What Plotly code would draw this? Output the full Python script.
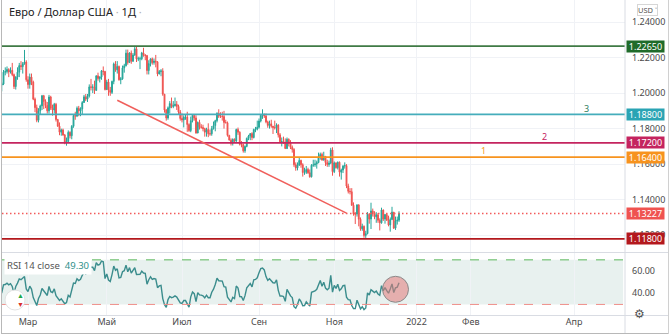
import numpy as np
import pandas as pd
import plotly.graph_objects as go

# ---------------- data (EUR/USD daily) ----------------
first_open = 1.2214
close = [
    1.2250, 1.2297, 1.2325, 1.2270, 1.2220,
    1.2150, 1.2207, 1.2156, 1.2154, 1.2080,
    1.2076, 1.2131, 1.2105, 1.2166, 1.2170,
    1.2141, 1.2160, 1.2110, 1.2125, 1.2136,
    1.2060, 1.2037, 1.2040, 1.1963, 1.2045,
    1.2051, 1.2118, 1.2121, 1.2133, 1.2119,
    1.2128, 1.2104, 1.2037, 1.2090, 1.2118,
    1.2155, 1.2149, 1.2165, 1.2175, 1.2075,
    1.2048, 1.2090, 1.2062, 1.1966, 1.1918,
    1.1847, 1.1900, 1.1928, 1.1985, 1.1953,
    1.1930, 1.1900, 1.1978, 1.1915, 1.1905,
    1.1937, 1.1851, 1.1814, 1.1780, 1.1793,
    1.1764, 1.1720, 1.1728, 1.1779, 1.1760,
    1.1813, 1.1874, 1.1871, 1.1915, 1.1900,
    1.1911, 1.1947, 1.1979, 1.1966, 1.1983,
    1.2035, 1.2033, 1.2034, 1.2015, 1.2097,
    1.2082, 1.2090, 1.2125, 1.2122, 1.2020,
    1.2062, 1.2016, 1.2004, 1.2066, 1.2164,
    1.2131, 1.2150, 1.2075, 1.2080, 1.2142,
    1.2154, 1.2225, 1.2172, 1.2226, 1.2180,
    1.2214, 1.2249, 1.2192, 1.2193, 1.2193,
    1.2226, 1.2213, 1.2211, 1.2127, 1.2166,
    1.2193, 1.2172, 1.2180, 1.2176, 1.2108,
    1.2121, 1.2125, 1.1994, 1.1905, 1.1860,
    1.1917, 1.1941, 1.1925, 1.1929, 1.1937,
    1.1925, 1.1894, 1.1857, 1.1849, 1.1865,
    1.1865, 1.1823, 1.1789, 1.1845, 1.1875,
    1.1860, 1.1775, 1.1835, 1.1810, 1.1807,
    1.1800, 1.1780, 1.1795, 1.1771, 1.1771,
    1.1800, 1.1817, 1.1845, 1.1886, 1.1870,
    1.1870, 1.1868, 1.1835, 1.1833, 1.1762,
    1.1735, 1.1719, 1.1740, 1.1730, 1.1795,
    1.1780, 1.1712, 1.1710, 1.1675, 1.1700,
    1.1745, 1.1758, 1.1772, 1.1750, 1.1795,
    1.1797, 1.1808, 1.1843, 1.1875, 1.1880,
    1.1871, 1.1838, 1.1818, 1.1827, 1.1814,
    1.1806, 1.1805, 1.1820, 1.1765, 1.1726,
    1.1727, 1.1723, 1.1688, 1.1740, 1.1719,
    1.1695, 1.1683, 1.1597, 1.1579, 1.1595,
    1.1621, 1.1597, 1.1553, 1.1554, 1.1570,
    1.1552, 1.1529, 1.1594, 1.1596, 1.1601,
    1.1609, 1.1636, 1.1655, 1.1623, 1.1644,
    1.1609, 1.1598, 1.1606, 1.1680, 1.1558,
    1.1607, 1.1580, 1.1611, 1.1555, 1.1567,
    1.1589, 1.1592, 1.1477, 1.1447, 1.1445,
    1.1369, 1.1320, 1.1319, 1.1370, 1.1290,
    1.1236, 1.1250, 1.1199, 1.1209, 1.1318,
    1.1291, 1.1337, 1.1320, 1.1304, 1.1315,
    1.1284, 1.1270, 1.1342, 1.1291, 1.1316,
    1.1285, 1.1258, 1.1289, 1.1330, 1.1240,
    1.1280, 1.1285, 1.1323,
]
high = [
    1.2310, 1.2305, 1.2349, 1.2340, 1.2280,
    1.2225, 1.2215, 1.2223, 1.2180, 1.2160,
    1.2090, 1.2145, 1.2145, 1.2175, 1.2190,
    1.2177, 1.2170, 1.2170, 1.2135, 1.2155,
    1.2140, 1.2075, 1.2060, 1.2045, 1.2050,
    1.2060, 1.2130, 1.2145, 1.2150, 1.2140,
    1.2145, 1.2170, 1.2110, 1.2095, 1.2145,
    1.2170, 1.2180, 1.2175, 1.2243, 1.2185,
    1.2095, 1.2110, 1.2110, 1.2070, 1.1975,
    1.1935, 1.1915, 1.1935, 1.1990, 1.1990,
    1.1965, 1.1950, 1.1990, 1.1985, 1.1935,
    1.1945, 1.1945, 1.1855, 1.1835, 1.1800,
    1.1800, 1.1770, 1.1750, 1.1790, 1.1785,
    1.1820, 1.1880, 1.1895, 1.1925, 1.1928,
    1.1920, 1.1955, 1.1990, 1.1995, 1.1995,
    1.2049, 1.2080, 1.2050, 1.2070, 1.2100,
    1.2115, 1.2095, 1.2130, 1.2150, 1.2125,
    1.2075, 1.2080, 1.2035, 1.2070, 1.2172,
    1.2180, 1.2180, 1.2155, 1.2090, 1.2155,
    1.2165, 1.2245, 1.2245, 1.2230, 1.2240,
    1.2225, 1.2266, 1.2260, 1.2205, 1.2205,
    1.2232, 1.2255, 1.2220, 1.2215, 1.2185,
    1.2195, 1.2200, 1.2195, 1.2215, 1.2180,
    1.2130, 1.2135, 1.2140, 1.1995, 1.1910,
    1.1925, 1.1955, 1.1975, 1.1955, 1.1975,
    1.1955, 1.1935, 1.1905, 1.1885, 1.1875,
    1.1880, 1.1895, 1.1830, 1.1868, 1.1880,
    1.1880, 1.1875, 1.1840, 1.1850, 1.1825,
    1.1822, 1.1805, 1.1805, 1.1830, 1.1795,
    1.1815, 1.1840, 1.1850, 1.1892, 1.1909,
    1.1892, 1.1895, 1.1900, 1.1850, 1.1840,
    1.1765, 1.1745, 1.1745, 1.1745, 1.1800,
    1.1806, 1.1785, 1.1730, 1.1715, 1.1705,
    1.1750, 1.1765, 1.1775, 1.1780, 1.1800,
    1.1810, 1.1845, 1.1857, 1.1880, 1.1909,
    1.1885, 1.1885, 1.1845, 1.1845, 1.1850,
    1.1815, 1.1845, 1.1830, 1.1825, 1.1775,
    1.1750, 1.1755, 1.1745, 1.1750, 1.1745,
    1.1735, 1.1705, 1.1690, 1.1610, 1.1610,
    1.1640, 1.1625, 1.1605, 1.1580, 1.1590,
    1.1580, 1.1570, 1.1600, 1.1625, 1.1625,
    1.1620, 1.1665, 1.1665, 1.1665, 1.1670,
    1.1645, 1.1625, 1.1620, 1.1692, 1.1695,
    1.1615, 1.1610, 1.1615, 1.1615, 1.1575,
    1.1595, 1.1610, 1.1600, 1.1490, 1.1465,
    1.1465, 1.1385, 1.1330, 1.1375, 1.1375,
    1.1300, 1.1265, 1.1255, 1.1225, 1.1330,
    1.1325, 1.1383, 1.1350, 1.1335, 1.1330,
    1.1325, 1.1295, 1.1355, 1.1345, 1.1320,
    1.1325, 1.1310, 1.1300, 1.1360, 1.1330,
    1.1305, 1.1305, 1.1335,
]
low = [
    1.2225, 1.2240, 1.2265, 1.2250, 1.2193,
    1.2132, 1.2132, 1.2150, 1.2115, 1.2070,
    1.2054, 1.2068, 1.2085, 1.2090, 1.2130,
    1.2118, 1.2115, 1.2058, 1.2080, 1.2108,
    1.2040, 1.2010, 1.2005, 1.1952, 1.1960,
    1.2010, 1.2045, 1.2100, 1.2110, 1.2090,
    1.2110, 1.2095, 1.2023, 1.2020, 1.2075,
    1.2090, 1.2130, 1.2110, 1.2160, 1.2064,
    1.2025, 1.2025, 1.2045, 1.1960, 1.1893,
    1.1836, 1.1835, 1.1880, 1.1905, 1.1910,
    1.1915, 1.1885, 1.1885, 1.1905, 1.1873,
    1.1885, 1.1840, 1.1810, 1.1763, 1.1760,
    1.1760, 1.1712, 1.1704, 1.1720, 1.1745,
    1.1740, 1.1805, 1.1850, 1.1865, 1.1870,
    1.1870, 1.1880, 1.1945, 1.1955, 1.1950,
    1.1975, 1.2015, 1.2000, 1.1995, 1.2015,
    1.2070, 1.2060, 1.2075, 1.2100, 1.2015,
    1.2018, 1.1985, 1.1985, 1.1995, 1.2050,
    1.2120, 1.2110, 1.2070, 1.2050, 1.2075,
    1.2115, 1.2150, 1.2160, 1.2170, 1.2165,
    1.2175, 1.2210, 1.2175, 1.2180, 1.2135,
    1.2185, 1.2205, 1.2185, 1.2105, 1.2105,
    1.2150, 1.2160, 1.2160, 1.2145, 1.2095,
    1.2105, 1.2095, 1.1985, 1.1890, 1.1845,
    1.1850, 1.1885, 1.1915, 1.1915, 1.1925,
    1.1905, 1.1880, 1.1845, 1.1835, 1.1807,
    1.1850, 1.1782, 1.1782, 1.1780, 1.1835,
    1.1845, 1.1772, 1.1775, 1.1795, 1.1800,
    1.1785, 1.1755, 1.1755, 1.1752, 1.1760,
    1.1760, 1.1795, 1.1785, 1.1835, 1.1860,
    1.1860, 1.1845, 1.1800, 1.1830, 1.1755,
    1.1735, 1.1705, 1.1705, 1.1720, 1.1725,
    1.1765, 1.1705, 1.1695, 1.1665, 1.1664,
    1.1695, 1.1735, 1.1735, 1.1735, 1.1745,
    1.1780, 1.1790, 1.1800, 1.1835, 1.1855,
    1.1860, 1.1830, 1.1805, 1.1800, 1.1805,
    1.1770, 1.1795, 1.1775, 1.1750, 1.1720,
    1.1700, 1.1715, 1.1685, 1.1685, 1.1700,
    1.1685, 1.1665, 1.1585, 1.1563, 1.1565,
    1.1590, 1.1580, 1.1530, 1.1540, 1.1545,
    1.1545, 1.1524, 1.1525, 1.1585, 1.1585,
    1.1575, 1.1605, 1.1625, 1.1620, 1.1620,
    1.1590, 1.1585, 1.1585, 1.1600, 1.1535,
    1.1550, 1.1575, 1.1570, 1.1530, 1.1513,
    1.1550, 1.1575, 1.1465, 1.1435, 1.1430,
    1.1365, 1.1310, 1.1263, 1.1305, 1.1250,
    1.1225, 1.1225, 1.1186, 1.1185, 1.1205,
    1.1265, 1.1235, 1.1305, 1.1290, 1.1270,
    1.1270, 1.1227, 1.1265, 1.1280, 1.1265,
    1.1280, 1.1250, 1.1220, 1.1285, 1.1235,
    1.1230, 1.1260, 1.1275,
]

# horizontal levels drawn on the chart
level_values = [1.22650, 1.18800, 1.17200, 1.16400, 1.11800]
level_colors = ["#3f7a45", "#45adbb", "#c4245f", "#f7931e", "#b3181d"]
level_box_colors = ["#1f6b2a", "#2aa4b4", "#c4245f", "#f7931e", "#b3181d"]
last_price = 1.13227

# trend line drawing (date, price)
trend_dates = ["2021-05-11", "2021-11-10"]
trend_prices = [1.1960, 1.1324]

# numbered text marks (text, date, price, colour)
mark_texts = ["1", "2", "3"]
mark_dates = ["2022-02-08", "2022-03-15", "2022-04-08"]
mark_prices = [1.1678, 1.1757, 1.1915]
mark_colors = ["#f59a23", "#c4245f", "#2e7d5b"]

# RSI circle drawing
circle_date = "2021-12-20"
circle_rsi = 43.6
rsi_last_text = "49.30"

price_ticks = [1.12, 1.14, 1.16, 1.18, 1.20, 1.22, 1.24]
rsi_ticks = [40, 60]
time_tick_dates = ["2021-03-01", "2021-05-03", "2021-07-01", "2021-09-01",
                   "2021-11-01", "2022-01-01", "2022-02-01", "2022-04-01"]
time_tick_labels = ["Мар", "Май", "Июл", "Сен", "Ноя", "2022", "Фев", "Апр"]

# ---------------- derived ----------------
hist_dates = pd.bdate_range("2021-01-04", "2021-12-22").strftime("%Y-%m-%d").tolist()
future_dates = pd.date_range("2021-12-23", "2022-05-31").strftime("%Y-%m-%d").tolist()
cats = hist_dates + future_dates
assert len(close) == len(high) == len(low) == len(hist_dates), (len(close), len(high), len(low), len(hist_dates))
open_ = [first_open] + close[:-1]
pos = {d: i for i, d in enumerate(cats)}

# RSI(14) on close, Wilder smoothing
c = np.array(close)
d = np.diff(c)
up = np.clip(d, 0, None)
dn = np.clip(-d, 0, None)
n = 14
au = up[:n].mean()
ad = dn[:n].mean()
rsi = [100 - 100 / (1 + au / ad)]
for i in range(n, len(d)):
    au = (au * (n - 1) + up[i]) / n
    ad = (ad * (n - 1) + dn[i]) / n
    rsi.append(100 - 100 / (1 + au / ad))
rsi_dates = hist_dates[n:]

# ---------------- geometry ----------------
W, H = 670, 335
ML, MR, MT, MB = 2, 45, 0, 20
PW = W - ML - MR           # 623
PH = H - MT - MB           # 315
PX_PER_BAR = 1.75
x_start = pos["2021-02-08"] + 0.14
x_range = [x_start, x_start + PW / PX_PER_BAR]
main_bottom_px = 252.5
rsi_top_px = 253


def px_x(px):
    return (px - ML) / PW


def px_y(py):
    return (PH + MT - py) / PH


FONT = "Noto Sans"
AX_COL = "#4a4a4a"
GRID = "#f0f2f6"

fig = go.Figure()
fig.add_trace(go.Candlestick(
    x=hist_dates, open=open_, high=high, low=low, close=close,
    increasing=dict(line=dict(color="#26a69a", width=1), fillcolor="#26a69a"),
    decreasing=dict(line=dict(color="#ef5350", width=1), fillcolor="#ef5350"),
    whiskerwidth=0, xaxis="x", yaxis="y", hoverinfo="skip", showlegend=False,
))
fig.add_trace(go.Scatter(
    x=rsi_dates, y=rsi, mode="lines", line=dict(color="#3b8d8d", width=1.4),
    xaxis="x2", yaxis="y2", hoverinfo="skip", showlegend=False,
))

xcommon = dict(type="category", categoryorder="array", categoryarray=cats,
               range=x_range, showgrid=True, gridcolor=GRID, gridwidth=1,
               tickvals=time_tick_dates, ticktext=time_tick_labels,
               zeroline=False, showline=False, ticks="", fixedrange=True)

fig.update_layout(
    width=W, height=H, margin=dict(l=ML, r=MR, t=MT, b=MB),
    paper_bgcolor="white", plot_bgcolor="white", showlegend=False,
    font=dict(family=FONT, size=9, color=AX_COL),
    xaxis=dict(**xcommon, domain=[0, 1], anchor="y", showticklabels=False,
               rangeslider=dict(visible=False)),
    xaxis2=dict(**xcommon, domain=[0, 1], anchor="y2", showticklabels=True,
                tickfont=dict(family=FONT, size=9, color=AX_COL)),
    yaxis=dict(domain=[px_y(main_bottom_px), 1], range=[1.24 - (252 - 22) / 1773, 1.24 + 22 / 1773],
               side="right", tickvals=price_ticks, tickformat=".5f", showgrid=True,
               gridcolor=GRID, zeroline=False, ticks="", ticklabelstandoff=6,
               tickfont=dict(family=FONT, size=9, color=AX_COL), fixedrange=True),
    yaxis2=dict(domain=[0, px_y(rsi_top_px)], range=[60 - 44 / 1.115, 60 + 18 / 1.115],
                side="right", tickvals=rsi_ticks, tickformat=".2f", showgrid=False,
                zeroline=False, ticks="", ticklabelstandoff=6,
                tickfont=dict(family=FONT, size=9, color=AX_COL), fixedrange=True),
)

shapes = []
# RSI band and bounds
shapes.append(dict(type="rect", xref="x2 domain", yref="y2", x0=0, x1=0.997, y0=30, y1=70,
                   fillcolor="rgba(120,170,160,0.17)", line=dict(width=0), layer="below"))
shapes.append(dict(type="line", xref="x2 domain", yref="y2", x0=0, x1=0.997, y0=70, y1=70,
                   line=dict(color="#5cb85c", width=1, dash="dash")))
shapes.append(dict(type="line", xref="x2 domain", yref="y2", x0=0, x1=0.997, y0=30, y1=30,
                   line=dict(color="#ef8f8a", width=1, dash="dash")))
# levels
for v, col in zip(level_values, level_colors):
    shapes.append(dict(type="line", xref="paper", yref="y", x0=0, x1=1, y0=v, y1=v,
                       line=dict(color=col, width=1.8)))
# last price dotted line
shapes.append(dict(type="line", xref="paper", yref="y", x0=0, x1=1, y0=last_price, y1=last_price,
                   line=dict(color="#f25a5a", width=1.5, dash="1.5px,2.5px")))
# trend line
shapes.append(dict(type="line", xref="x", yref="y",
                   x0=pos[trend_dates[0]], y0=trend_prices[0],
                   x1=pos[trend_dates[1]], y1=trend_prices[1],
                   line=dict(color="#f0605c", width=1.5)))
# circle on RSI
shapes.append(dict(type="circle", xref="x2", yref="y2", xsizemode="pixel", ysizemode="pixel",
                   xanchor=pos[circle_date], yanchor=circle_rsi, x0=-13, x1=13, y0=-13, y1=13,
                   fillcolor="rgba(226,120,120,0.55)", line=dict(color="#8a8a8a", width=1)))
# pane separators & frame
sep = "#d9dce3"
shapes.append(dict(type="line", xref="paper", yref="paper", x0=px_x(2), x1=px_x(668),
                   y0=px_y(main_bottom_px), y1=px_y(main_bottom_px), line=dict(color=sep, width=1)))
shapes.append(dict(type="line", xref="paper", yref="paper", x0=px_x(2), x1=px_x(668),
                   y0=px_y(315.5), y1=px_y(315.5), line=dict(color=sep, width=1)))
shapes.append(dict(type="line", xref="paper", yref="paper", x0=1, x1=1,
                   y0=px_y(334), y1=1, line=dict(color=sep, width=1)))
shapes.append(dict(type="line", xref="paper", yref="paper", x0=px_x(1.5), x1=px_x(1.5),
                   y0=px_y(334), y1=1, line=dict(color="#b8b8b8", width=1)))
shapes.append(dict(type="line", xref="paper", yref="paper", x0=px_x(1.5), x1=px_x(668.5),
                   y0=px_y(333.5), y1=px_y(333.5), line=dict(color="#b8b8b8", width=1)))
shapes.append(dict(type="line", xref="paper", yref="paper", x0=px_x(668.5), x1=px_x(668.5),
                   y0=px_y(334), y1=1, line=dict(color="#d0d0d0", width=1)))
# indicator icon bubble
shapes.append(dict(type="circle", xref="paper", yref="paper", xsizemode="pixel", ysizemode="pixel",
                   xanchor=px_x(15), yanchor=px_y(300), x0=-10, x1=10, y0=-10, y1=10,
                   fillcolor="white", line=dict(color="#e3e3e3", width=1)))
fig.update_layout(shapes=shapes)

ann = []
# price axis labels
for v, col in zip(level_values + [last_price], level_box_colors + ["#ef5350"]):
    ann.append(dict(xref="paper", yref="y", x=1, y=v, xanchor="left", yanchor="middle",
                    xshift=1, text=f"{v:.5f}", showarrow=False, bgcolor=col,
                    font=dict(family=FONT, size=9, color="white"), width=35, height=9,
                    borderpad=1))
# title
ann.append(dict(xref="paper", yref="paper", x=px_x(7), y=px_y(12), xanchor="left", yanchor="middle",
                text="Евро / Доллар США <span style='color:#b0b0b0'>·</span> 1Д <span style='color:#b0b0b0'>·</span>",
                showarrow=False, font=dict(family=FONT, size=11, color="#222")))
# USD button
ann.append(dict(xref="paper", yref="paper", x=px_x(647), y=px_y(9.5), xanchor="center", yanchor="middle",
                text="USD ˅", showarrow=False, font=dict(family=FONT, size=7.5, color="#555"),
                bordercolor="#d6d6d6", borderwidth=1, borderpad=0, bgcolor="white"))
# RSI legend
ann.append(dict(xref="paper", yref="paper", x=px_x(4), y=px_y(265), xanchor="left", yanchor="middle",
                text=f"RSI 14 close  <span style='color:#2f8f8a'>{rsi_last_text}</span>",
                showarrow=False, bgcolor="white", font=dict(family=FONT, size=9.5, color="#555"),
                borderpad=2))
# numbered marks
for t, dte, p, col in zip(mark_texts, mark_dates, mark_prices, mark_colors):
    ann.append(dict(xref="x", yref="y", x=pos[dte], y=p, text=t, showarrow=False,
                    font=dict(family=FONT, size=9, color=col)))
# icon arrows (one text block)
ann.append(dict(xref="paper", yref="paper", x=px_x(15), y=px_y(300), yanchor="middle",
                text="<span style='color:#22a845'>▲</span><br><span style='color:#d9302a'>▼</span>",
                showarrow=False, font=dict(size=7, color="#22a845")))
# settings icon
ann.append(dict(xref="paper", yref="paper", x=px_x(647), y=px_y(324), text="⚙", showarrow=False,
                font=dict(size=12, color="#555")))
fig.update_layout(annotations=ann)

fig.write_html("out.html", include_plotlyjs=True, config={"displayModeBar": False})
